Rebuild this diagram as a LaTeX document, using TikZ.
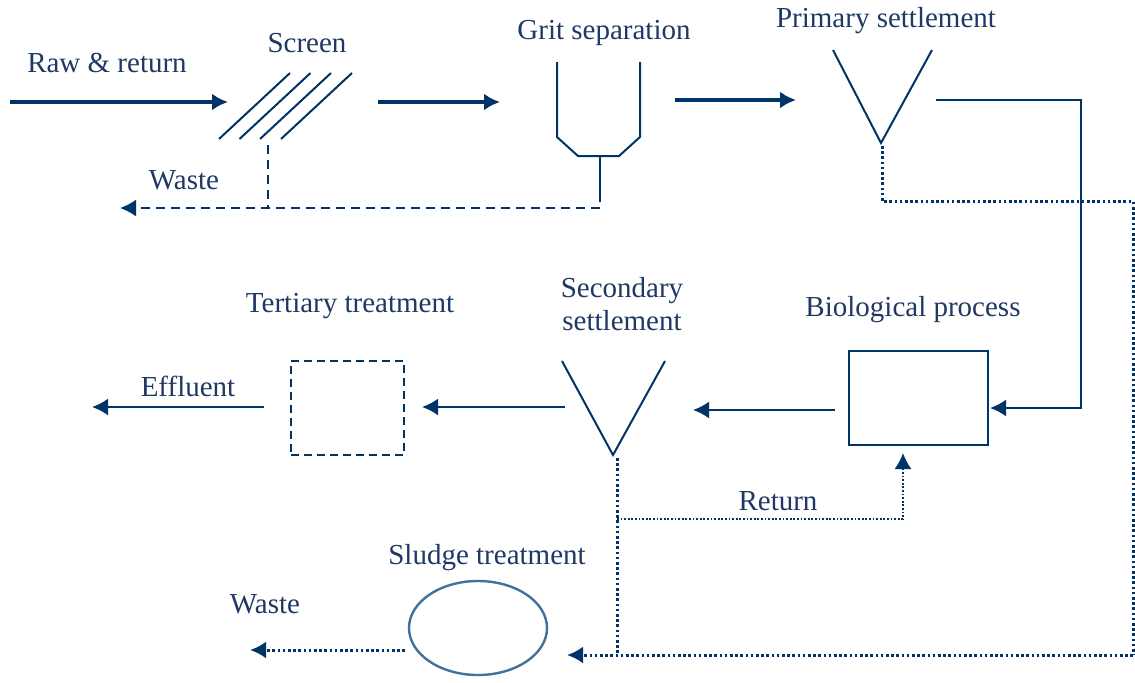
\documentclass[tikz,border=0pt]{standalone}
\usepackage{fontspec}
\setmainfont{Liberation Serif}
\usetikzlibrary{arrows.meta,shapes.geometric}
\definecolor{plantline}{HTML}{003366}
\definecolor{planttext}{HTML}{1F3864}
\definecolor{ovalline}{HTML}{41719C}
\tikzset{
  flowlbl/.style={text=planttext, font=\fontsize{14.5}{16.5}\selectfont, inner sep=0pt, align=center},
  mainflow/.style={-{Latex[length=8pt,width=8.5pt]}, line width=1.6pt, draw=plantline},
  sideflow/.style={-{Latex[length=8pt,width=8.5pt]}, line width=1.1pt, draw=plantline},
  tankline/.style={line width=1pt, draw=plantline},
  unitbox/.style={draw=plantline, line width=1pt, inner sep=0pt},
  wasteflow/.style={line width=1pt, draw=plantline, dash pattern=on 4.5pt off 3pt},
  sludgeflow/.style={line width=1.5pt, draw=plantline, dash pattern=on 1.3pt off 1.3pt},
  returnflow/.style={line width=0.9pt, draw=plantline, dash pattern=on 0.9pt off 0.9pt}
}
\begin{document}
\begin{tikzpicture}[x=0.5pt, y=-0.5pt]
\useasboundingbox (0,0) rectangle (1135,682);
% labels
\node[flowlbl] (rawlbl) at (107,63) {Raw \& return};
\node[flowlbl] (screenlbl) at (307,43) {Screen};
\node[flowlbl] (gritlbl) at (604,33) {Grit separation};
\node[flowlbl] (primlbl) at (886,21) {Primary settlement};
\node[flowlbl] (screenwastelbl) at (184,180) {Waste};
\node[flowlbl] (biolbl) at (913,310) {Biological process};
\node[flowlbl] (seclbl) at (622,304) {Secondary\\settlement};
\node[flowlbl] (terlbl) at (350,306) {Tertiary treatment};
\node[flowlbl] (efflbl) at (188,386) {Effluent};
\node[flowlbl] (retlbl) at (778,501) {Return};
\node[flowlbl] (sludgelbl) at (487,558) {Sludge treatment};
\node[flowlbl] (sludgewastelbl) at (265,604) {Waste};
% process units
\node[unitbox, minimum width=69.5pt, minimum height=47pt] (bio) at (918.5,398) {};
\node[unitbox, dash pattern=on 4pt off 2.5pt, minimum width=56.5pt, minimum height=47pt] (tert) at (347.5,408) {};
\node[unitbox, ellipse, draw=ovalline, line width=1.2pt, minimum width=69pt, minimum height=47pt] (sludge) at (478,628) {};
% screen
\foreach \dx in {0,20.5,41,62}
  \draw[tankline] (219+\dx,139) -- (290+\dx,73);
% grit channel
\draw[tankline] (557,62) -- (557,137) -- (578,156) -- (619,156) -- (640,137) -- (640,62);
% settlement tanks
\draw[tankline] (833,50) -- (881,143) -- (932,50);
\draw[tankline] (562,361) -- (613,455) -- (665,361);
% flow points
\coordinate (rawin) at (10,102);
\coordinate (screenin) at (228,102);
\coordinate (screenout) at (378,102);
\coordinate (gritin) at (500,102);
\coordinate (gritout) at (675,100);
\coordinate (primin) at (796,100);
\coordinate (primout) at (936,100);
\coordinate (primcorner) at (1081,100);
\coordinate (bioin) at (990,408);
\coordinate (bioout) at (835,410);
\coordinate (secin) at (693,410);
\coordinate (secout) at (565,407);
\coordinate (tertin) at (422,407);
\coordinate (tertout) at (264,407);
\coordinate (effout) at (92,407);
\coordinate (screendrain) at (268,145);
\coordinate (gritdrain) at (600,156);
\coordinate (grittop) at (600,208);
\coordinate (wasteout) at (120,208);
\coordinate (primapex) at (882,146);
\coordinate (secapex) at (617,458);
\coordinate (returnin) at (903,453);
\coordinate (sludgein) at (567,655);
\coordinate (sludgeright) at (1133,655);
\coordinate (sludgeout) at (405,650);
\coordinate (sludgewaste) at (250,650);
% main line
\draw[mainflow] (rawin) -- (screenin);
\draw[mainflow] (screenout) -- (gritin);
\draw[mainflow] (gritout) -- (primin);
\draw[sideflow] (primout) -- (primcorner) |- (bioin);
\draw[sideflow] (bioout) -- (secin);
\draw[sideflow] (secout) -- (tertin);
\draw[sideflow] (tertout) -- (effout);
% grit and screenings
\draw[tankline] (gritdrain) -- ([yshift=3pt]grittop);
\draw[wasteflow] (screendrain) -- (screendrain |- grittop);
\draw[wasteflow, -{Latex[length=8pt,width=8.5pt]}] (grittop) -- (wasteout);
% sludge lines
\draw[sludgeflow] (primapex) |- (1133,201) -- (sludgeright);
\draw[sludgeflow, -{Latex[length=8pt,width=8.5pt]}] (sludgeright) -- (sludgein);
\draw[sludgeflow] (secapex) -- (secapex |- sludgein);
\draw[returnflow, -{Latex[length=8pt,width=8.5pt]}] (secapex |- 0,519) -| (returnin);
\draw[sludgeflow, -{Latex[length=8pt,width=8.5pt]}] (sludgeout) -- (sludgewaste);
\end{tikzpicture}
\end{document}
